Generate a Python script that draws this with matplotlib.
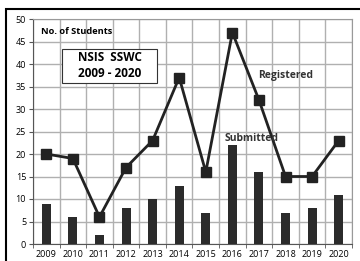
import matplotlib.pyplot as plt
from matplotlib.patches import Rectangle

years = ["2009", "2010", "2011", "2012", "2013", "2014",
         "2015", "2016", "2017", "2018", "2019", "2020"]
registered = [20, 19, 6, 17, 23, 37, 16, 47, 32, 15, 15, 23]
submitted = [9, 6, 2, 8, 10, 13, 7, 22, 16, 7, 8, 11]

plt.rcParams['font.family'] = ['Open Sans', 'DejaVu Sans']

fig = plt.figure(figsize=(3.6, 2.61), dpi=100)
ax = fig.add_axes([33 / 360, 17 / 261, 319 / 360, 225 / 261])

x = list(range(len(years)))
ax.bar(x, submitted, width=0.34, color="#2b2b2b", zorder=3)
ax.plot(x, registered, color="#222222", lw=2, marker="s", ms=6.5, zorder=4)

ax.set_xlim(-0.5, len(years) - 0.5)
ax.set_ylim(0, 50)
ax.set_yticks(range(0, 51, 5))
ax.set_xticks(x)
ax.set_xticklabels(years)
ax.set_xticks([i - 0.5 for i in range(len(years) + 1)], minor=True)
ax.tick_params(axis="x", which="major", length=0, labelsize=6.5, pad=4)
ax.tick_params(axis="x", which="minor", length=3, color="#555555")
ax.tick_params(axis="y", labelsize=6.5, length=3, color="#555555", pad=2)

ax.grid(axis="y", color="#b0b0b0", lw=1, zorder=0)
ax.grid(axis="x", which="minor", color="#b0b0b0", lw=1, zorder=0)

for side in ["top", "right"]:
    ax.spines[side].set_color("#999999")
for side in ["left", "bottom"]:
    ax.spines[side].set_color("#555555")

ax.text(0.025, 0.965, "No. of Students", transform=ax.transAxes,
        fontsize=6.7, fontweight="bold", va="top", ha="left")

# title box
ax.add_patch(Rectangle((0.59, 35.8), 3.58, 7.5, fc="white", ec="#333333",
                       lw=0.8, zorder=5))
ax.text(2.38, 39.6, "NSIS  SSWC\n2009 - 2020", fontsize=8.5, fontweight="bold",
        ha="center", va="center", linespacing=1.3, zorder=6)

ax.text(7.96, 37.5, "Registered", fontsize=7.5, fontweight="bold",
        ha="left", va="center", color="#333333", zorder=5)
ax.text(6.69, 23.5, "Submitted", fontsize=7.5, fontweight="bold",
        ha="left", va="center", color="#333333", zorder=5)

fig.add_artist(Rectangle((6 / 360, -0.1), 1.2, 1 - 9 / 261 + 0.1,
                         transform=fig.transFigure, fill=False,
                         ec="black", lw=1.5))

fig.savefig("out.png", dpi=100)
